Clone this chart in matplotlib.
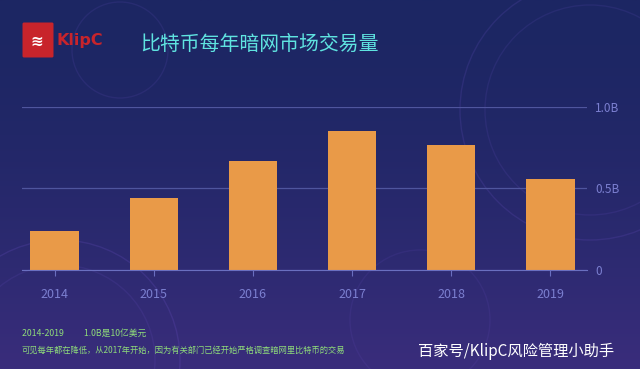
import matplotlib; matplotlib.use("Agg")
import matplotlib.pyplot as plt
import numpy as np
from matplotlib.patches import Circle, FancyBboxPatch

plt.rcParams['font.family'] = ['Noto Sans CJK SC', 'DejaVu Sans']

years = ["2014", "2015", "2016", "2017", "2018", "2019"]
volume_b = [0.24, 0.44, 0.67, 0.85, 0.765, 0.56]   # billions USD
ytick_vals = [0, 0.5, 1.0]
ytick_labels = ["0", "0.5B", "1.0B"]

title = "比特币每年暗网市场交易量"
note1 = "2014-2019          1.0B是10亿美元"
note2 = "可见每年都在降低，从2017年开始，因为有关部门已经开始严格调查暗网里比特币的交易"
watermark = "百家号/KlipC风险管理小助手"

fig = plt.figure(figsize=(6.4, 3.69), dpi=100)

# background gradient
bg = fig.add_axes([0, 0, 1, 1], zorder=0)
grad = np.linspace(0, 1, 256)[:, None]
c_top = np.array([0x1c, 0x26, 0x63]) / 255
c_bot = np.array([0x3a, 0x2d, 0x7c]) / 255
img = c_top + (c_bot - c_top) * grad[..., None] ** 1.6
bg.imshow(img, aspect="auto", extent=[0, 640, 369, 0])
bg.set_xlim(0, 640); bg.set_ylim(369, 0); bg.axis("off")
# faint decorative rings
for (cx, cy, r, a) in [(60, 360, 120, 0.18), (60, 360, 95, 0.12), (590, 110, 130, 0.16),
                       (590, 110, 105, 0.12), (420, 320, 70, 0.1), (120, 50, 48, 0.12)]:
    bg.add_patch(Circle((cx, cy), r, fill=False, ec="#7a5ad8", lw=1.0, alpha=a))

# logo
bg.add_patch(FancyBboxPatch((24, 24), 28, 32, boxstyle="round,pad=1.5", fc="#c8242b", ec="none"))
bg.text(30, 41, "≋", color="white", fontsize=11, va="center", family="DejaVu Sans", fontweight="bold")
bg.text(56, 41, "KlipC", color="#c8242b", fontsize=11.5, fontweight="bold", va="center",
        family="DejaVu Sans")

bg.text(260, 44, title, color="#5fe3e0", fontsize=14.3, ha="center", va="center", fontweight="medium")
bg.text(22, 333, note1, color="#8fdc7a", fontsize=6.3, va="center", fontweight="medium")
bg.text(22, 350, note2, color="#8fdc7a", fontsize=5.95, va="center", fontweight="medium")
bg.text(614, 351, watermark, color="white", fontsize=11, ha="right", va="center")

ax = fig.add_axes([22 / 640, 1 - 270 / 369, 565 / 640, 163 / 369], zorder=1)
ax.patch.set_alpha(0)
x = np.arange(len(years))
ax.bar(x, volume_b, width=0.49, color="#e99a48", zorder=3)
ax.set_xlim(-0.33, 5.37)
ax.set_ylim(0, 1.0)
ax.yaxis.tick_right()
ax.set_yticks(ytick_vals)
ax.set_yticklabels(ytick_labels)
ax.tick_params(axis="y", length=0, pad=6, labelsize=8.5, labelcolor="#7b7fd0")
ax.set_xticks(x)
ax.set_xticklabels(years)
ax.tick_params(axis="x", length=4, color="#6a6fc0", pad=9, labelsize=9, labelcolor="#7b7fd0")
ax.grid(axis="y", color="#4f559e", lw=0.9, zorder=1)
for s in ["top", "left", "right"]:
    ax.spines[s].set_visible(False)
ax.spines["bottom"].set_color("#6a6fc0")
ax.spines["bottom"].set_zorder(4)

fig.savefig("out.png", dpi=100)
